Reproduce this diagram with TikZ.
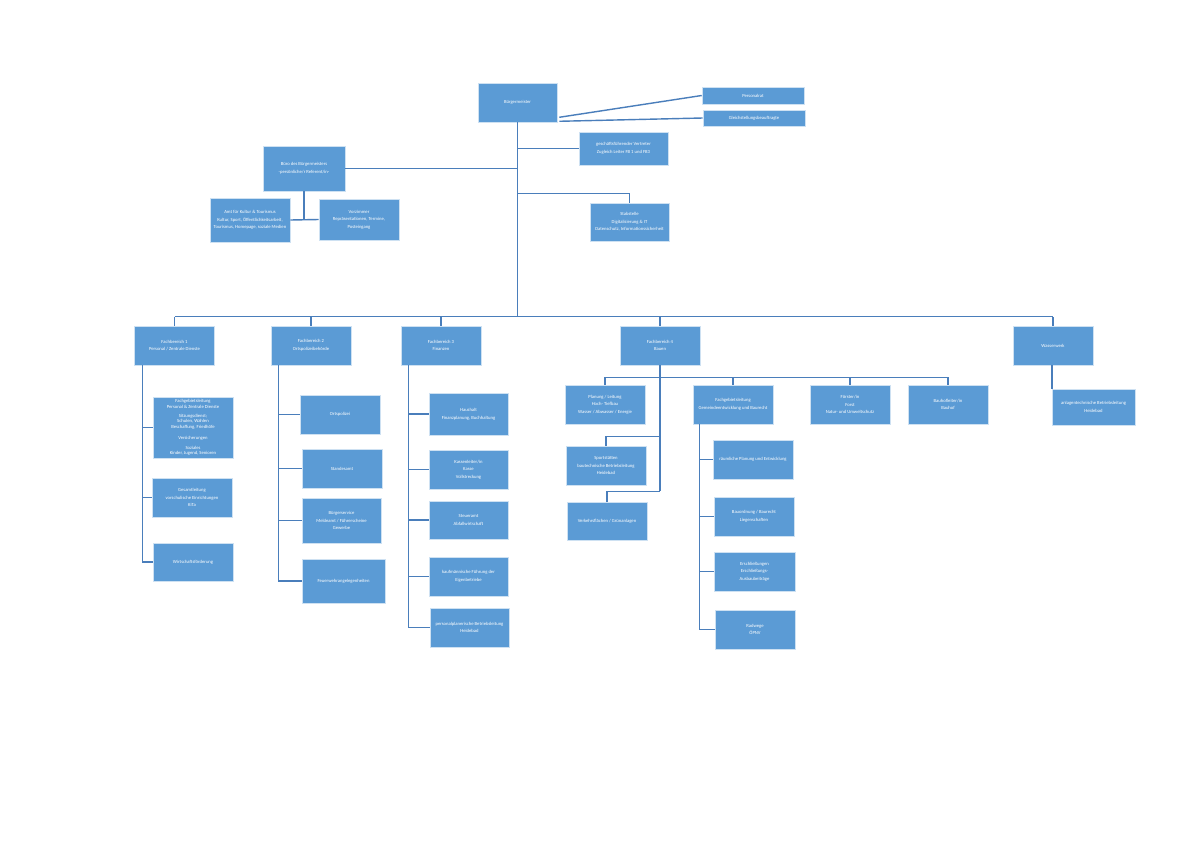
\documentclass[tikz,border=0pt]{standalone}
\usepackage{fontspec}
\setmainfont{Carlito}
\usetikzlibrary{calc}
\newdimen\pxu \pxu=0.02494cm
\definecolor{boxblue}{HTML}{5B9BD5}
\definecolor{lineblue}{HTML}{4A7EBB}
\begin{document}
\begin{tikzpicture}[x=\pxu,y=-\pxu,
    orgbox/.style={rectangle,draw=white!70!boxblue,line width=0.4pt,fill=boxblue,text=white,
      align=center,inner sep=0pt,font=\fontsize{3.3}{5.4}\selectfont},
    sz/.style 2 args={minimum width=#1*\pxu,minimum height=#2*\pxu},
    conn/.style={draw=lineblue,line width=1pt}]
    \path[fill=white,use as bounding box] (0,0) rectangle (1191,842);
    % Leitung
    \node[orgbox,sz={79}{39}] (bm) at (517.5,102.5) {Bürgermeister};
    \node[orgbox,sz={102}{17}] (prat) at (753,95.5) {Personalrat};
    \node[orgbox,sz={102}{16}] (gleich) at (754,118) {Gleichstellungsbeauftragte};
    \node[orgbox,sz={89}{33}] (gfv) at (623.5,148.5) {geschäftsführender Vertreter\\Zugleich Leiter FB 1 und FB3};
    \node[orgbox,sz={82}{45}] (buero) at (304,168.5) {Büro des Bürgermeisters\\-persönliche/r Referent/in-};
    \node[orgbox,sz={80}{44}] (kultur) at (250,220) {Amt für Kultur \& Tourismus\\Kultur, Sport, Öffentlichkeitsarbeit,\\Tourismus, Homepage, soziale Medien};
    \node[orgbox,sz={80}{41}] (vorz) at (359,219.5) {Vorzimmer\\Repräsentationen, Termine,\\Posteingang};
    \node[orgbox,sz={79}{38}] (stab) at (629.5,222) {Stabstelle\\Digitalisierung \& IT\\Datenschutz, Informationssicherheit};
    % Fachbereiche
    \foreach \n/\x/\t in {fb1/174.5/{Fachbereich 1\\Personal / Zentrale Dienste},
        fb2/311/{Fachbereich 2\\Ortspolizeibehörde},
        fb3/441/{Fachbereich 3\\Finanzen},
        fb4/660/{Fachbereich 4\\Bauen},
        ww/1053/{Wasserwerk}}
      \node[orgbox,sz={80}{39}] (\n) at (\x,345.5) {\t};
    % FB 1
    \node[orgbox,sz={80}{61},font=\fontsize{3.3}{4.1}\selectfont] (f1a) at (193,427.5) {Fachgebietsleitung\\Personal \& Zentrale Dienste\\[2.2pt]Sitzungsdienst;\\Schulen, Wahlen\\Beschaffung, Friedhöfe\\[3.5pt]Versicherungen\\[2.8pt]Soziales\\Kinder, Jugend, Senioren};
    \node[orgbox,sz={80}{39}] (f1b) at (192,497.5) {Gesamtleitung\\vorschulische Einrichtungen\\KiTa};
    \node[orgbox,sz={80}{38}] (f1c) at (193,562) {Wirtschaftsförderung};
    % FB 2
    \node[orgbox,sz={80}{39}] (f2a) at (340,414.5) {Ortspolizei};
    \node[orgbox,sz={80}{39}] (f2b) at (342,468.5) {Standesamt};
    \node[orgbox,sz={79}{45}] (f2c) at (341.5,520.5) {Bürgerservice\\Meldeamt / Führerscheine\\Gewerbe};
    \node[orgbox,sz={83}{44}] (f2d) at (343.5,581) {Feuerwehrangelegenheiten};
    % FB 3
    \node[orgbox,sz={79}{42}] (f3a) at (468.5,414) {Haushalt\\Finanzplanung, Buchhaltung};
    \node[orgbox,sz={79}{39}] (f3b) at (468.5,469.5) {Kassenleiter/in\\Kasse\\Vollstreckung};
    \node[orgbox,sz={79}{38}] (f3c) at (468.5,520) {Steueramt\\Abfallwirtschaft};
    \node[orgbox,sz={79}{39}] (f3d) at (468.5,576.5) {kaufmännische Führung der\\Eigenbetriebe};
    \node[orgbox,sz={79}{39}] (f3e) at (469.5,627.5) {personalplanerische Betriebsleitung\\Heidebad};
    % FB 4
    \node[orgbox,sz={80}{39}] (plan) at (605,404.5) {Planung / Leitung\\Hoch- Tiefbau\\Wasser / Abwasser / Energie};
    \node[orgbox,sz={80}{39}] (sport) at (606,465.5) {Sportstätten\\bautechnische Betriebsleitung\\Heidebad};
    \node[orgbox,sz={80}{38}] (verk) at (607,521) {Verkehrsflächen / Grünanlagen};
    \node[orgbox,sz={80}{39}] (gem) at (733,404.5) {Fachgebietsleitung\\Gemeindeentwicklung und Baurecht};
    \node[orgbox,sz={80}{39}] (forst) at (850,404.5) {Förster/in\\Forst\\Natur- und Umweltschutz};
    \node[orgbox,sz={80}{39}] (bauhof) at (948,404.5) {Bauhofleiter/in\\Bauhof};
    \node[orgbox,sz={80}{39}] (g1) at (753,459.5) {räumliche Planung und Entwicklung};
    \node[orgbox,sz={80}{39}] (g2) at (754,516.5) {Bauordnung / Baurecht\\Liegenschaften};
    \node[orgbox,sz={81}{39}] (g3) at (754.5,571.5) {Erschließungen\\Erschließungs-\\Ausbaubeiträge};
    \node[orgbox,sz={80}{39}] (g4) at (755,629.5) {Radwege\\ÖPNV};
    % Wasserwerk
    \node[orgbox,sz={83}{36}] (wwa) at (1093.5,407) {anlagentechnische Betriebsleitung\\Heidebad};
    % Verbindungen
    \draw[conn] ($(bm.south east)+(2,-5)$) -- (prat.west);
    \draw[conn] ($(bm.south east)+(2,-1)$) -- (gleich.west);
    \coordinate (busL) at ($(fb1.north)+(0,-9)$);
    \draw[conn] (bm.south) -- (bm.south |- busL);
    \draw[conn] (busL) -- (busL -| ww.north);
    \foreach \n in {fb1,fb2,fb3,fb4,ww} \draw[conn] (\n.north) -- (\n.north |- busL);
    \draw[conn] (gfv.west) -- (gfv.west -| bm.south);
    \draw[conn] (buero.east) -- (buero.east -| bm.south);
    \draw[conn] (stab.north) |- ($(bm.south)+(0,71)$);
    \draw[conn] (buero.south) -- (buero.south |- kultur.east);
    \draw[conn] (kultur.east) -- (vorz.west);
    \foreach \c in {f1a,f1b,f1c} \draw[conn] ($(fb1.south west)+(8,0)$) |- (\c.west);
    \foreach \c in {f2a,f2b,f2c,f2d} \draw[conn] ($(fb2.south west)+(8,0)$) |- (\c.west);
    \foreach \c in {f3a,f3b,f3c,f3d,f3e} \draw[conn] ($(fb3.south west)+(8,0)$) |- (\c.west);
    \foreach \c in {plan,gem,forst,bauhof} \draw[conn] (\c.north) |- ($(fb4.south)+(0,12)$);
    \draw[conn] (fb4.south) -- ($(fb4.south)+(0,126)$);
    \draw[conn] (sport.north) |- ($(fb4.south)+(0,71)$);
    \draw[conn] (verk.north) |- ($(fb4.south)+(0,126)$);
    \foreach \c in {g1,g2,g3,g4} \draw[conn] ($(gem.south west)+(7,0)$) |- (\c.west);
    \coordinate (wwt) at ($(ww.south)+(-1,0)$);
    \draw[conn] (wwt) -- (wwt |- wwa.north);
\end{tikzpicture}
\end{document}
